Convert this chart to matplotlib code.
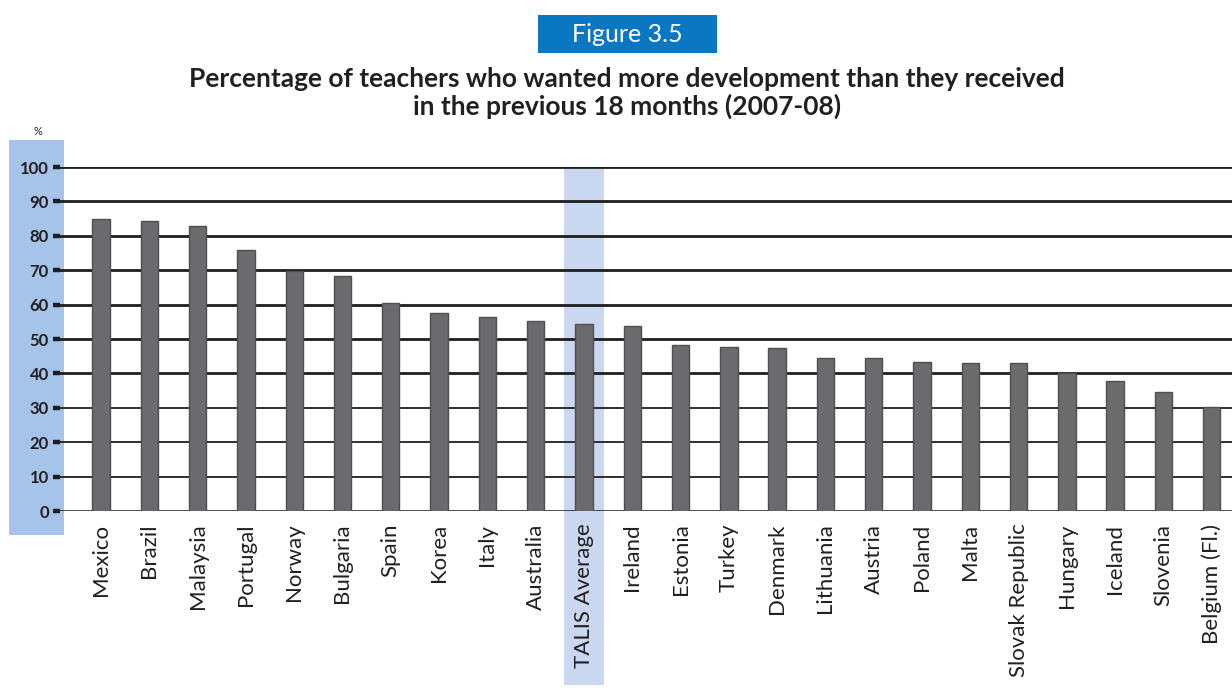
import matplotlib
matplotlib.use("Agg")
import matplotlib.pyplot as plt
from matplotlib.patches import Rectangle

countries = ["Mexico", "Brazil", "Malaysia", "Portugal", "Norway", "Bulgaria",
             "Spain", "Korea", "Italy", "Australia", "TALIS Average", "Ireland",
             "Estonia", "Turkey", "Denmark", "Lithuania", "Austria", "Poland",
             "Malta", "Slovak Republic", "Hungary", "Iceland", "Slovenia",
             "Belgium (Fl.)"]
values = [85.0, 84.4, 82.8, 76.0, 69.9, 68.4, 60.4, 57.7, 56.3, 55.3, 54.5, 53.9,
          48.3, 47.8, 47.3, 44.5, 44.5, 43.4, 42.9, 42.9, 40.0, 37.9, 34.6, 30.1]
yticks = [0, 10, 20, 30, 40, 50, 60, 70, 80, 90, 100]
highlight = "TALIS Average"

plt.rcParams["font.family"] = ["Lato", "DejaVu Sans"]
text_col = "#231f20"

fig = plt.figure(figsize=(12.32, 7.0), dpi=100)
ax = fig.add_axes([0.0487, 0.27, 0.9513, 0.4914])

# left blue band behind the y tick labels (outside the plot area)
ax.add_patch(Rectangle((-0.0435, -0.0698), 0.047, 1.148, transform=ax.transAxes,
                       facecolor="#a6c3e9", edgecolor="none", clip_on=False, zorder=0))

x = list(range(len(countries)))
hi = countries.index(highlight)
ax.add_patch(Rectangle((hi - 0.42, -0.506), 0.84, 1.5, transform=ax.get_xaxis_transform(),
                       facecolor="#c9d8f0", edgecolor="none", clip_on=False, zorder=0))

for t in yticks:
    lw = 2.0 if t >= 40 else 1.3
    if t == 0:
        lw = 1.1
    ax.axhline(t, color="#1e1e1e", lw=lw, zorder=1)

ax.bar(x, values, width=0.36, color="#6b6b6d", edgecolor="#4f4f50", linewidth=1.0, zorder=2)

ax.set_xlim(-0.85, 23.42)
ax.set_ylim(0, 100)
ax.set_yticks(yticks)
ax.set_yticklabels([str(t) for t in yticks], fontsize=12, color=text_col, fontweight="bold")
ax.tick_params(axis="y", length=5, width=3.2, color="#1e1e1e", pad=3)
ax.set_xticks(x)
ax.set_xticklabels(countries, rotation=90, fontsize=16, color=text_col)
ax.tick_params(axis="x", length=0, pad=9)
for s in ax.spines.values():
    s.set_visible(False)
ax.patch.set_alpha(0)

fig.text(0.031, 0.812, "%", fontsize=8, color=text_col, ha="center", va="center")

fig.patches.append(Rectangle((0.4367, 0.9243), 0.1453, 0.0543, transform=fig.transFigure,
                             facecolor="#0a77c2", edgecolor="none"))
fig.text(0.5093, 0.951, "Figure 3.5", fontsize=18, color="white", ha="center", va="center")
fig.text(0.509, 0.867, "Percentage of teachers who wanted more development than they received\n"
         "in the previous 18 months (2007-08)", fontsize=19, fontweight="bold",
         color=text_col, ha="center", va="center", linespacing=1.1)

fig.savefig("out.png", dpi=100)
